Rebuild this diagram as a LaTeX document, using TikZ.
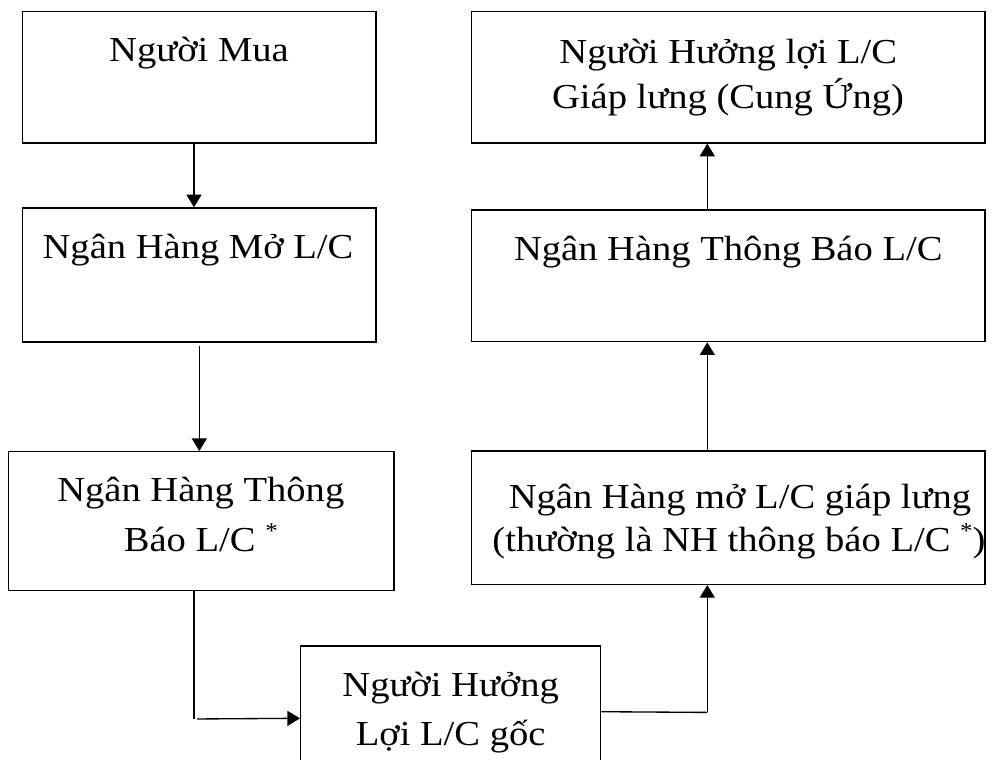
\documentclass[tikz,border=0pt]{standalone}
\usepackage{fontspec}
\setmainfont{Liberation Serif}[FakeStretch=1.1]
\usetikzlibrary{arrows.meta,calc}
\newcommand\supast{\raisebox{10pt}{\fontsize{17pt}{17pt}\selectfont *}}
\tikzset{
  box/.style={draw, line width=1pt, inner sep=0pt, fill=white},
  txt/.style={anchor=base, inner sep=0pt, font=\fontsize{26.3pt}{30pt}\selectfont},
  arr/.style={line width=1pt, -{Triangle[width=11.25pt,length=9.5pt]}},
  ln/.style={line width=1pt}
}
\begin{document}
\begin{tikzpicture}[x=0.75pt,y=-0.75pt]
\useasboundingbox (0,0) rectangle (1003,760);
\clip (0,0) rectangle (1003,760);
\fill[white] (0,0) rectangle (1003,760);
% boxes
\node[box, minimum width=353.3*0.75pt, minimum height=131.3*0.75pt] (b1) at (199.3,77.3) {};
\node[box, minimum width=353.3*0.75pt, minimum height=134*0.75pt] (b2) at (199.3,275) {};
\node[box, minimum width=385.7*0.75pt, minimum height=139*0.75pt] (b3) at (201.2,521.2) {};
\node[box, minimum width=300*0.75pt, minimum height=144.6*0.75pt] (b4) at (450.7,718.3) {};
\node[box, minimum width=513.3*0.75pt, minimum height=133.3*0.75pt] (b5) at (728.3,517.7) {};
\node[box, minimum width=513.3*0.75pt, minimum height=131.7*0.75pt] (b6) at (728.3,275.8) {};
\node[box, minimum width=513.3*0.75pt, minimum height=131.3*0.75pt] (b7) at (728.3,77.3) {};
% texts
\node[txt] (t1) at (199,61.7) {Người Mua};
\node[txt] (t2) at (198,258) {Ngân Hàng Mở L/C};
\node[txt] (t3a) at (200.8,501.7) {Ngân Hàng Thông};
\node[txt] (t3b) at (200.8,551.7) {Báo L/C \supast};
\node[txt] (t4a) at (450.7,696.7) {Người Hưởng};
\node[txt] (t4b) at (450.7,745) {Lợi L/C gốc};
\node[txt] (t5a) at (740,508.3) {Ngân Hàng mở L/C giáp lưng};
\node[txt] (t5b) at (739,551.7) {(thường là NH thông báo L/C \supast)};
\node[txt] (t6) at (728.3,260) {Ngân Hàng Thông Báo L/C};
\node[txt] (t7a) at (728.3,63.3) {Người Hưởng lợi L/C};
\node[txt] (t7b) at (728,108) {Giáp lưng (Cung Ứng)};
% connectors
\draw[arr] ($(b1.south)+(-5.3,0)$) -- ($(b2.north)+(-5.3,0)$);
\draw[arr] ($(b2.south)+(0,3)$) -- (b2.south |- b3.north);
\coordinate (c34) at ($(b3.south)+(-7.2,127.6)$);
\draw[ln] ($(b3.south)+(-7.2,0)$) -- (c34);
\draw[arr] ($(c34)+(3,0)$) -- (b4.west);
\coordinate (c45) at ($(b5.south)+(-21,127.4)$);
\draw[ln] ($(b4.east)+(0,-6.6)$) -- (c45);
\draw[arr] (c45) -- ($(b5.south)+(-21,0)$);
\draw[arr] ($(b5.north)+(-21,0)$) -- ($(b6.south)+(-21,0)$);
\draw[arr] ($(b6.north)+(-21,0)$) -- ($(b7.south)+(-21,0)$);
\end{tikzpicture}
\end{document}
